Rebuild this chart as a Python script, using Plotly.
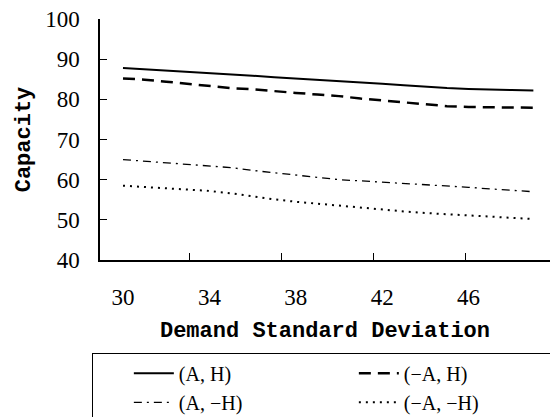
import plotly.graph_objects as go

x_vals = list(range(30, 50))
series_names = ["(A, H)", "(−A, H)", "(A, −H)", "(−A, −H)"]
s_AH = [87.8, 87.5, 87.2, 86.9, 86.5, 86.2, 85.9, 85.5, 85.2, 84.9,
        84.6, 84.2, 83.9, 83.5, 83.1, 82.8, 82.6, 82.4, 82.3, 82.2]
s_nAH = [85.2, 84.9, 84.4, 83.9, 83.3, 82.8, 82.5, 82.0, 81.6, 81.2,
         80.8, 80.2, 79.7, 79.3, 78.7, 78.3, 78.1, 78.0, 77.9, 77.9]
s_AnH = [65.0, 64.6, 64.2, 63.8, 63.4, 63.0, 62.3, 61.7, 61.1, 60.5,
         60.0, 59.7, 59.4, 59.0, 58.7, 58.4, 58.1, 57.7, 57.3, 57.0]
s_nAnH = [58.5, 58.2, 57.9, 57.5, 57.2, 56.6, 55.8, 55.1, 54.5, 54.0,
          53.5, 53.0, 52.6, 52.1, 51.7, 51.4, 51.1, 50.8, 50.5, 50.2]
x_ticks = [30, 34, 38, 42, 46]
y_ticks = [40, 50, 60, 70, 80, 90, 100]

styles = [
    dict(width=2, dash="solid"),
    dict(width=2.5, dash="12px,7px"),
    dict(width=1.3, dash="8px,5px,2px,5px"),
    dict(width=2, dash="2px,5px"),
]

fig = go.Figure()
for name, ys, st in zip(series_names, [s_AH, s_nAH, s_AnH, s_nAnH], styles):
    fig.add_trace(go.Scatter(x=x_vals, y=ys, mode="lines", name=name,
                             line=dict(color="black", **st)))

serif = "Liberation Serif"
fig.update_layout(
    width=550, height=417,
    margin=dict(l=100, r=0, t=19, b=157, autoexpand=False),
    paper_bgcolor="white", plot_bgcolor="white",
    showlegend=True,
    legend=dict(orientation="h", xref="container", x=0.167, xanchor="left",
                yref="container", y=0.154, yanchor="top",
                entrywidth=170, entrywidthmode="pixels",
                bordercolor="black", borderwidth=1,
                font=dict(family=serif, size=20, color="black"),
                title=dict(text="\u2003\u2003", side="left",
                           font=dict(family=serif, size=13)),
                itemwidth=40),
    xaxis=dict(range=[28.935, 49.77], tickvals=x_ticks,
               ticks="", showline=True, linecolor="black", linewidth=1.5,
               showgrid=False, zeroline=False, ticklabelstandoff=16,
               tickfont=dict(family=serif, size=23, color="black"),
               minor=dict(ticks="inside", tick0=33.1, dtick=4.25, ticklen=7,
                          tickcolor="black", showgrid=False),
               title=dict(text="<b>Demand Standard Deviation</b>",
                          font=dict(family="Liberation Mono", size=22, color="black"),
                          standoff=12)),
    yaxis=dict(range=[40, 100], tickvals=y_ticks,
               ticks="inside", ticklen=7, tickcolor="black",
               showline=True, linecolor="black", linewidth=1.5,
               showgrid=False, zeroline=False, ticklabelstandoff=14,
               tickfont=dict(family=serif, size=23, color="black"),
               title=dict(text="<b>Capacity</b>",
                          font=dict(family="Liberation Mono", size=22, color="black"),
                          standoff=8)),
)

fig.write_html("out.html")
